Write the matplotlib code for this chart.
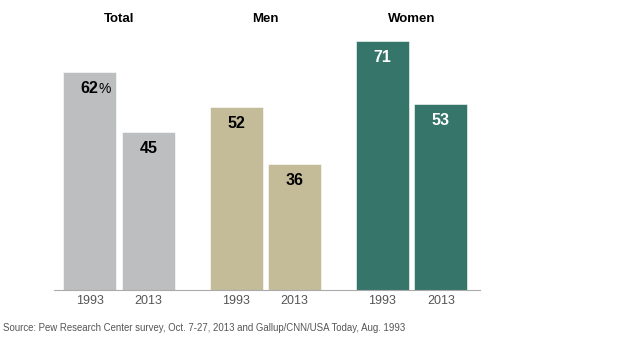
import matplotlib.pyplot as plt

groups = ["Total", "Men", "Women"]
years = ["1993", "2013"]
vals_1993 = [62, 52, 71]
vals_2013 = [45, 36, 53]
colors = ["#bcbec0", "#c4bc99", "#35756a"]
label_colors = ["black", "black", "white"]

plt.rcParams['font.family'] = ['Liberation Sans', 'DejaVu Sans']

fig = plt.figure(figsize=(6.4, 3.46), dpi=100)
ax = fig.add_axes([0.084, 0.162, 0.666, 0.838])

w = 0.906
for i, g in enumerate(groups):
    x0 = i * 2.5
    for j, v in enumerate([vals_1993[i], vals_2013[i]]):
        x = x0 + j
        ax.bar(x, v, width=w, color=colors[i], edgecolor="white", linewidth=0.4)
        if i == 0 and j == 0:
            ax.text(x + 0.15, v - 4.7, str(v), ha="right", va="center",
                    fontsize=11.5, fontweight="bold", color=label_colors[i])
            ax.text(x + 0.15, v - 4.7, "%", ha="left", va="center",
                    fontsize=10, color=label_colors[i])
        else:
            ax.text(x, v - 4.7, str(v), ha="center", va="center",
                    fontsize=11.5, fontweight="bold", color=label_colors[i])
        ax.text(x, -3.2, years[j], ha="center", va="center", fontsize=9,
                color="#555555")
    ax.text(x0 + 0.5, 77.3, g, ha="center", va="center", fontsize=9.5,
            fontweight="bold")

ax.set_xlim(-0.615, 6.667)
ax.set_ylim(0, 82.6)
for s in ["top", "right", "left"]:
    ax.spines[s].set_visible(False)
ax.spines["bottom"].set_color("#aaaaaa")
ax.spines["bottom"].set_linewidth(0.8)
ax.set_xticks([])
ax.set_yticks([])
ax.patch.set_alpha(0)

fig.text(0.005, 0.052, "Source: Pew Research Center survey, Oct. 7-27, 2013 and Gallup/CNN/USA Today, Aug. 1993",
         ha="left", va="center", fontsize=6.9, color="#555555")

fig.savefig("out.png", dpi=100)
